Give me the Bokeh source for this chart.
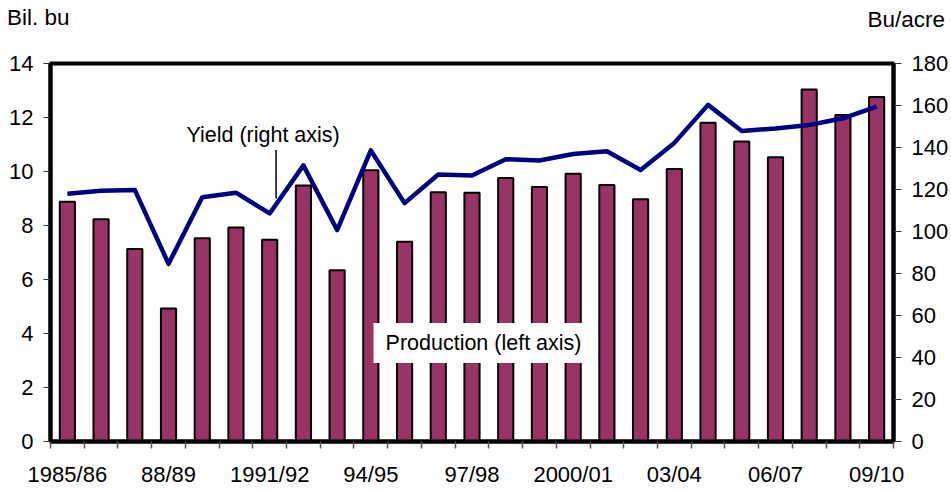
from bokeh.plotting import figure
from bokeh.layouts import column
from bokeh.models import Range1d, LinearAxis, FixedTicker, Label, ColumnDataSource, Div
from bokeh.embed import file_html
from bokeh.resources import INLINE

# ---- data ----
seasons = ["1985/86", "1986/87", "1987/88", "1988/89", "1989/90", "1990/91", "1991/92",
           "1992/93", "1993/94", "1994/95", "1995/96", "1996/97", "1997/98", "1998/99",
           "1999/00", "2000/01", "2001/02", "2002/03", "2003/04", "2004/05", "2005/06",
           "2006/07", "2007/08", "2008/09", "2009/10"]
production = [8.88, 8.23, 7.13, 4.93, 7.53, 7.93, 7.47, 9.48, 6.34, 10.05, 7.40, 9.23,
              9.21, 9.76, 9.43, 9.92, 9.50, 8.97, 10.09, 11.81, 11.11, 10.53, 13.04,
              12.09, 12.76]
yield_bu = [118.0, 119.4, 119.8, 84.6, 116.3, 118.5, 108.6, 131.5, 100.7, 138.6, 113.5,
            127.1, 126.7, 134.4, 133.8, 136.9, 138.2, 129.3, 142.2, 160.3, 147.9, 149.1,
            150.7, 153.9, 159.5]
tick_labels = ["1985/86", "88/89", "1991/92", "94/95", "97/98", "2000/01", "03/04",
               "06/07", "09/10"]
left_ticks = [0, 2, 4, 6, 8, 10, 12, 14]
right_ticks = [0, 20, 40, 60, 80, 100, 120, 140, 160, 180]
left_title = "Bil. bu"
right_title = "Bu/acre"

FONT = "Liberation Sans"
FS = "22px"
AFS = "21.5px"

n = len(seasons)
xc = [i + 0.5 for i in range(n)]
src = ColumnDataSource(dict(x=xc, prod=production, yld=yield_bu, season=seasons))

# ---- header strip with the two axis titles ----
HW, HH = 948, 40
span_style = ("position:absolute;top:{top}px;{side}:{off}px;line-height:1;white-space:nowrap;"
              "font-family:'Liberation Sans',Arial,sans-serif;font-size:22.5px;color:black;")
head_html = (
    f'<div style="position:relative;width:{HW}px;height:{HH}px;margin:0;padding:0;">'
    f'<span style="{span_style.format(top=7, side="left", off=7)}">{left_title}</span>'
    f'<span style="{span_style.format(top=9, side="right", off=HW - 945)}">{right_title}</span>'
    '</div>'
)
head = Div(text=head_html, width=HW, height=HH, margin=0)

# ---- main chart ----
p = figure(frame_width=843, frame_height=378, output_backend="svg", toolbar_location=None,
           x_range=Range1d(0, n), y_range=Range1d(0, 14),
           min_border_left=50, min_border_top=23, min_border_bottom=43, min_border_right=50)
p.extra_y_ranges = {"yield": Range1d(0, 180)}

p.vbar(x="x", top="prod", width=0.45, source=src, fill_color="#993366",
       line_color="black", line_width=2)
p.line(x="x", y="yld", source=src, y_range_name="yield", line_color="#000080",
       line_width=4.5, line_join="round")

p.grid.visible = False
p.outline_line_color = "black"
p.outline_line_width = 4
p.background_fill_color = "white"
p.border_fill_color = "white"

# x axis
xa = p.xaxis[0]
xa.ticker = FixedTicker(ticks=[0.5 + 3 * i for i in range(len(tick_labels))],
                        minor_ticks=list(range(n + 1)))
xa.major_label_overrides = {0.5 + 3 * i: lab for i, lab in enumerate(tick_labels)}
xa.major_tick_out = 0
xa.major_tick_in = 0
xa.minor_tick_out = 7
xa.minor_tick_in = 0
xa.minor_tick_line_color = "#555555"
xa.minor_tick_line_width = 1.5
xa.axis_line_width = 4
xa.axis_line_color = "black"
xa.major_label_standoff = 13
xa.major_label_text_font = FONT
xa.major_label_text_font_size = FS
xa.major_label_text_color = "black"

# left y axis
ya = p.yaxis[0]
ya.ticker = FixedTicker(ticks=left_ticks)
ya.major_tick_out = 7
ya.major_tick_in = 0
ya.minor_tick_out = 0
ya.minor_tick_in = 0
ya.major_tick_line_color = "#333333"
ya.axis_line_width = 4
ya.axis_line_color = "black"
ya.major_label_standoff = 10
ya.major_label_text_font = FONT
ya.major_label_text_font_size = FS
ya.major_label_text_color = "black"

# right y axis
ra = LinearAxis(y_range_name="yield", ticker=FixedTicker(ticks=right_ticks))
ra.major_tick_out = 8
ra.major_tick_in = 0
ra.minor_tick_out = 0
ra.minor_tick_in = 0
ra.major_tick_line_color = "#333333"
ra.axis_line_width = 4
ra.axis_line_color = "black"
ra.major_label_standoff = 10
ra.major_label_text_font = FONT
ra.major_label_text_font_size = FS
ra.major_label_text_color = "black"
p.add_layout(ra, "right")

# annotations
p.add_layout(Label(x=4.03, y=11.37, text="Yield (right axis)", text_font=FONT,
                   text_font_size=AFS, text_align="left", text_baseline="middle",
                   text_color="black"))
p.segment(x0=[6.69], y0=[10.8], x1=[6.69], y1=[9.0], line_color="black", line_width=1.5)
p.add_layout(Label(x=9.58, y=3.65, text="Production (left axis)", text_font=FONT,
                   text_font_size=AFS, text_align="left", text_baseline="middle",
                   text_color="black", background_fill_color="white",
                   padding=(12, 2, 8, 8)))

layout = column(head, p, spacing=0)
open("out.html", "w").write(file_html(layout, INLINE))
